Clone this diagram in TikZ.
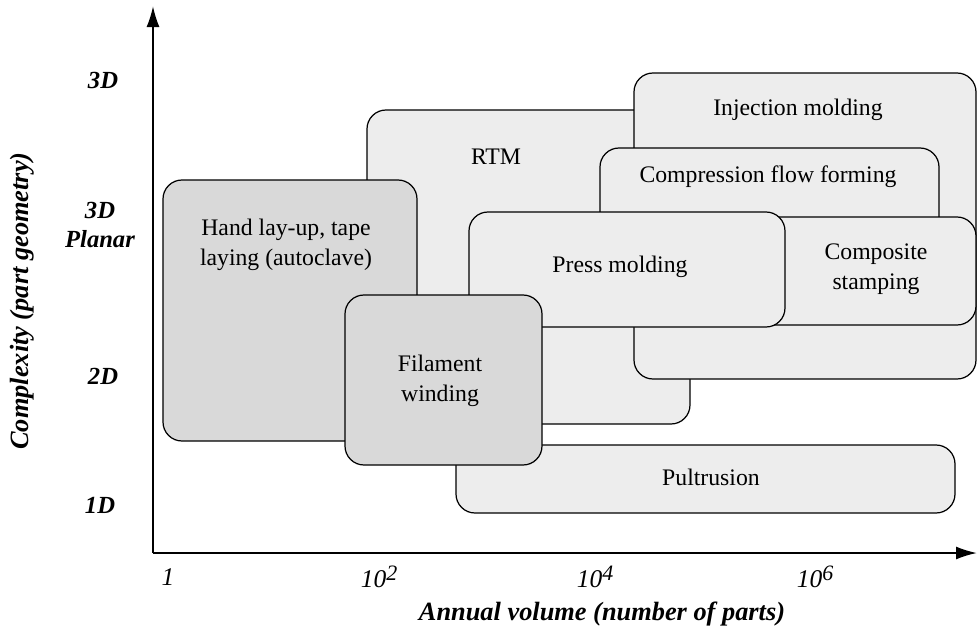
\documentclass[tikz,border=0pt]{standalone}
\usepackage{fontspec}
\setmainfont{Liberation Serif}
\usetikzlibrary{arrows.meta}

% exponent on the volume ticks, nearly full size
\newcommand{\tenpow}[1]{10\raisebox{0.55ex}{\fontsize{12.5}{12.5}\selectfont #1}}

\begin{document}
\begin{tikzpicture}[
    process/.style={draw, line width=0.7pt, rounded corners=0.38cm, fill=gray!14},
    manual/.style={process, fill=gray!30},
    proctext/.style={align=center, font=\fontsize{13.5}{17}\selectfont},
    axis/.style={line width=1.1pt, -{Latex[length=4.2mm,width=2.6mm]}},
    level/.style={align=center, font=\fontsize{14}{17}\selectfont\bfseries\itshape},
    tick/.style={font=\fontsize{14.5}{16}\selectfont\itshape},
    title/.style={font=\fontsize{15}{18}\selectfont\bfseries\itshape}
]
    \useasboundingbox (-3.06,-1.6) rectangle (16.48,11.06);

    % process windows, back to front
    \draw [process] (4.28,2.58) rectangle (10.74,8.86);
    \node [proctext] (rtm) at (6.86,7.92) {RTM};

    \draw [process] (9.62,3.48) rectangle (16.46,9.6);
    \node [proctext] (inject) at (12.9,8.86) {Injection molding};

    \draw [process] (8.94,5.0) rectangle (15.72,8.1);
    \node [proctext] (cff) at (12.3,7.52) {Compression flow forming};

    \draw [process] (11.7,4.56) rectangle (16.46,6.72);
    \node [proctext] (stamp) at (14.46,5.68) {Composite\\stamping};

    \draw [process] (6.32,4.52) rectangle (12.64,6.82);
    \node [proctext] (press) at (9.34,5.72) {Press molding};

    \draw [manual] (0.2,2.24) rectangle (5.28,7.46);
    \node [proctext] (handlay) at (2.66,6.16) {Hand lay-up, tape\\laying (autoclave)};

    \draw [process] (6.06,0.8) rectangle (16.04,2.16);
    \node [proctext] (pultr) at (11.16,1.52) {Pultrusion};

    \draw [manual] (3.84,1.76) rectangle (7.78,5.16);
    \node [proctext] (filament) at (5.74,3.44) {Filament\\winding};

    % axes
    \coordinate (o) at (0,0);
    \coordinate (ytip) at (0,10.94);
    \coordinate (xtip) at (16.48,0);
    \draw [axis] (o) -- (ytip);
    \draw [axis] (o) -- (xtip);

    % complexity levels
    \node [level] (l3d) at (-1.0,9.46) {3D};
    \node [level] (l3dp) at (-1.06,6.56) {3D\\Planar};
    \node [level] (l2d) at (-1.0,3.54) {2D};
    \node [level] (l1d) at (-1.06,0.96) {1D};

    % volume ticks
    \node [tick] (v0) at (0.3,-0.48) {1};
    \node [tick] (v2) at (4.52,-0.48) {\tenpow{2}};
    \node [tick] (v4) at (8.84,-0.48) {\tenpow{4}};
    \node [tick] (v6) at (13.24,-0.48) {\tenpow{6}};

    \node [title] (xlabel) at (8.98,-1.22) {Annual volume (number of parts)};
    \node [title, rotate=90] (ylabel) at (-2.62,5.04) {Complexity (part geometry)};
\end{tikzpicture}
\end{document}
